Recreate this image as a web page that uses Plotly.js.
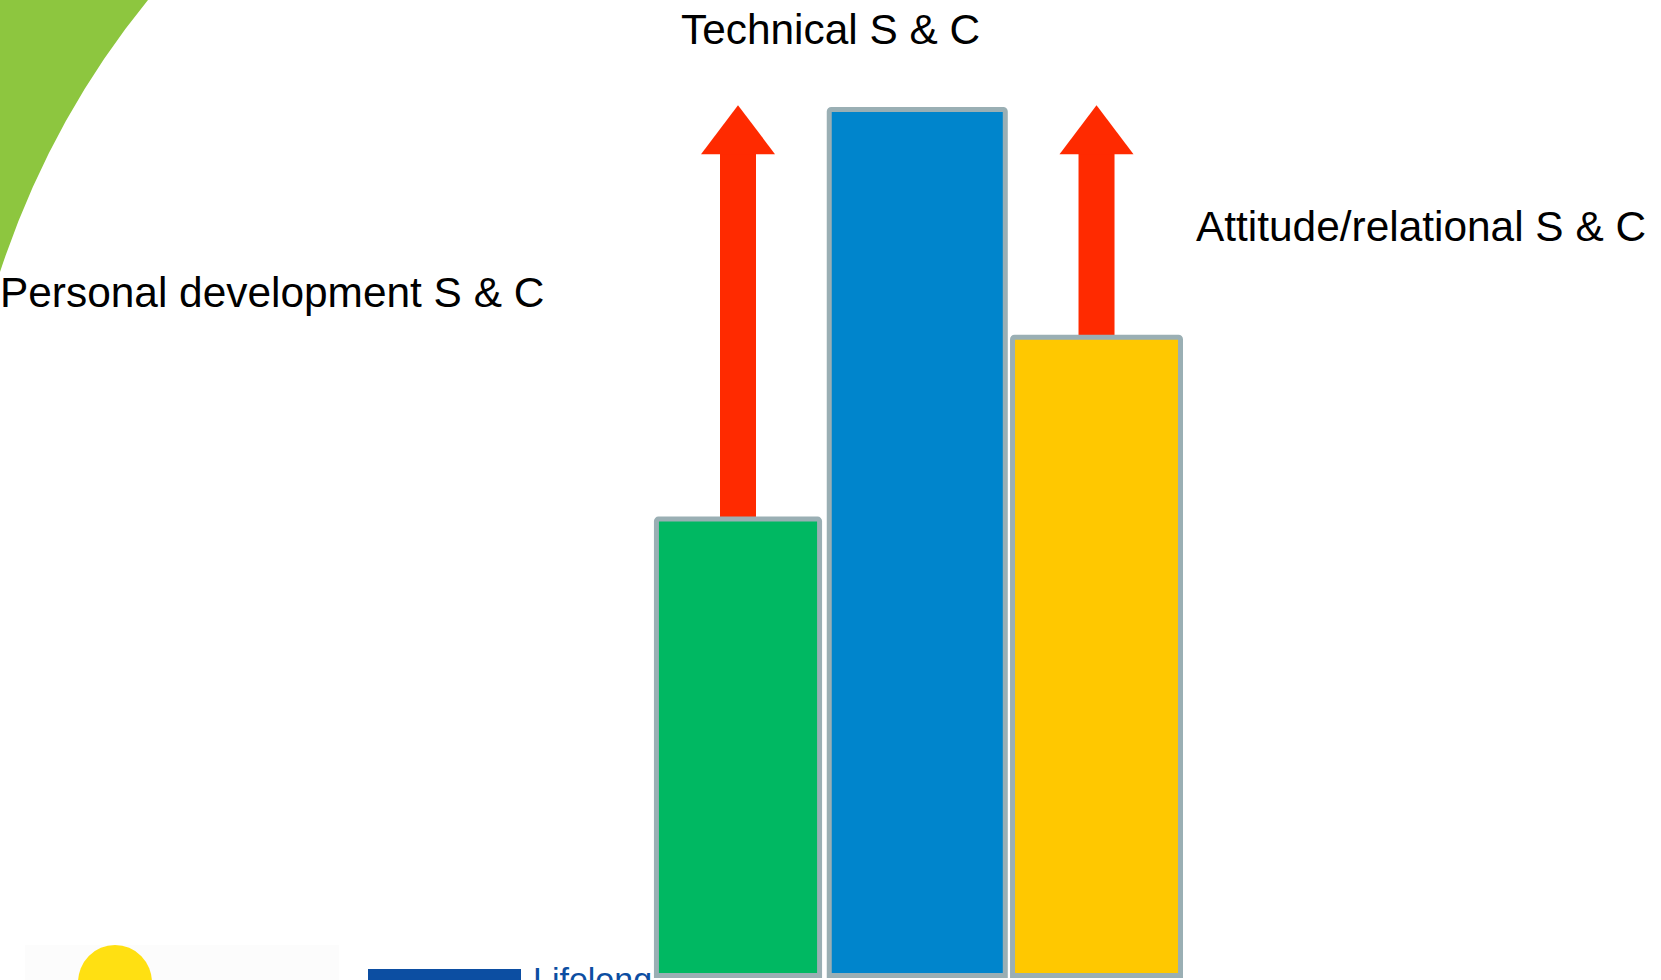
<!DOCTYPE html>
<html>
<head>
<meta charset="utf-8">
<script src="https://cdn.plot.ly/plotly-3.0.1.min.js"></script>
<style>
  html, body { margin: 0; padding: 0; background: #ffffff; overflow: hidden; }
  #chart { width: 1661px; height: 980px; }
</style>
</head>
<body>
<div id="chart"></div>
<script>
// ---- data ----
const categories = ["Personal development S & C", "Technical S & C", "Attitude/relational S & C"];
const positions = [0, 1, 2];
const levels = [52.7, 100, 73.7];
const arrowTargets = [100.5, null, 100.5];
const barColors = ["#00b862", "#0085cc", "#ffc800"];
const barWidths = [0.91, 0.982, 0.937];

// ---- styles ----
const W = 1661, H = 980;
const FONT = '"Liberation Sans", Arial, Helvetica, sans-serif';
const arrowColor = "#ff2a00";
const borderColor = "#9aafb4";
const xRange = [-4.117, 5.149];
const yRange = [-0.52, 112.64];
const headHalfW = 37, headH = 49, shaftHalfW = 18;
const headHData = headH * (yRange[1] - yRange[0]) / H; // head height converted to y units
const px = (x) => x / W;          // paper x from pixel
const py = (y) => 1 - y / H;      // paper y from pixel

const barTrace = {
  type: "bar",
  x: positions,
  y: levels,
  width: barWidths,
  text: categories,
  hoverinfo: "text",
  textposition: "none",
  marker: {
    color: barColors,
    line: { color: borderColor, width: 5 },
    cornerradius: 2
  }
};

const shapes = [];

// decorative green wedge at top-left (slide design)
shapes.push({
  type: "path", xref: "paper", yref: "paper", layer: "below",
  path: `M${px(0)},${py(0)} L${px(148)},${py(0)} Q${px(50)},${py(120)} ${px(0)},${py(272)} Z`,
  fillcolor: "#8dc63f", line: { width: 0 }
});
// faint logo panel at bottom-left
shapes.push({
  type: "rect", xref: "paper", yref: "paper", layer: "below",
  x0: px(25), x1: px(339), y0: py(990), y1: py(945),
  fillcolor: "#fcfcfc", line: { width: 0 }
});
// yellow logo disc
shapes.push({
  type: "circle", xref: "paper", yref: "paper", layer: "below",
  x0: px(78), x1: px(152), y0: py(1020), y1: py(945),
  fillcolor: "#ffe012", line: { width: 0 }
});
// blue logo block
shapes.push({
  type: "rect", xref: "paper", yref: "paper", layer: "below",
  x0: px(368), x1: px(521), y0: py(995), y1: py(969),
  fillcolor: "#0c4ea2", line: { width: 0 }
});

// red growth arrows: shaft from bar top up to head base, head anchored at target
positions.forEach((p, i) => {
  const t = arrowTargets[i];
  if (t === null) return;
  shapes.push({
    type: "rect", xref: "x", yref: "y", layer: "below",
    xsizemode: "pixel", xanchor: p, x0: -shaftHalfW, x1: shaftHalfW,
    y0: levels[i], y1: t - headHData + 0.1,
    fillcolor: arrowColor, line: { width: 0 }
  });
  shapes.push({
    type: "path", xref: "x", yref: "y", layer: "above",
    xsizemode: "pixel", ysizemode: "pixel", xanchor: p, yanchor: t,
    path: `M-${headHalfW},-${headH} L${headHalfW},-${headH} L0,0 Z`,
    fillcolor: arrowColor, line: { width: 0 }
  });
});

const labelFont = { family: FONT, size: 42.4, color: "#000000" };
const annotations = [
  { text: categories[0], xref: "paper", yref: "paper", x: px(-2), y: py(292),
    xanchor: "left", yanchor: "middle", showarrow: false, font: labelFont },
  { text: categories[1], xref: "paper", yref: "paper", x: px(679), y: py(29),
    xanchor: "left", yanchor: "middle", showarrow: false, font: labelFont },
  { text: categories[2], xref: "paper", yref: "paper", x: px(1194), y: py(226),
    xanchor: "left", yanchor: "middle", showarrow: false, font: labelFont },
  { text: "Lifelong", xref: "paper", yref: "paper", x: px(531), y: py(958),
    xanchor: "left", yanchor: "top", showarrow: false,
    font: { family: FONT, size: 34, color: "#0c4ea2" } }
];

const layout = {
  width: W, height: H,
  margin: { l: 0, r: 0, t: 0, b: 0, pad: 0 },
  paper_bgcolor: "#ffffff",
  plot_bgcolor: "rgba(0,0,0,0)",
  showlegend: false,
  xaxis: { visible: false, range: xRange, fixedrange: true },
  yaxis: { visible: false, range: yRange, fixedrange: true },
  shapes: shapes,
  annotations: annotations
};

Plotly.newPlot("chart", [barTrace], layout, { displayModeBar: false, staticPlot: true });
</script>
</body>
</html>
